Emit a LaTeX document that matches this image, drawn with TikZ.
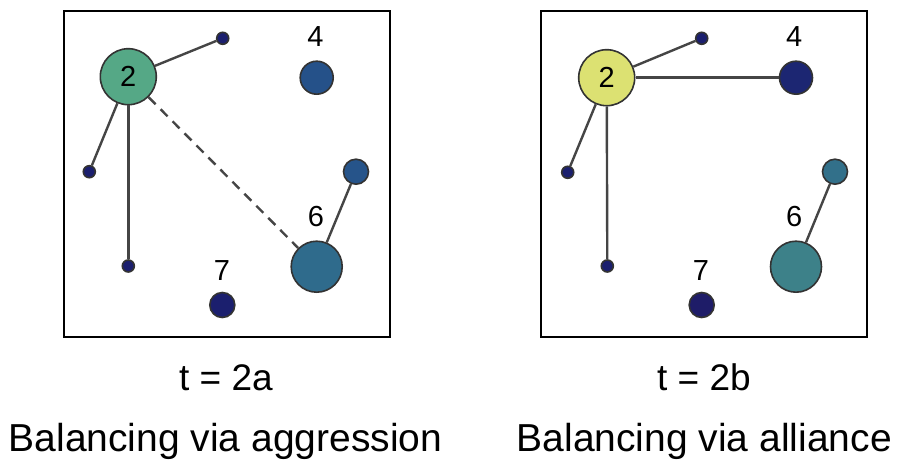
\documentclass[tikz,border=0pt]{standalone}
\usepackage{fontspec}
\setmainfont{Liberation Sans}
\usepackage{xcolor}
\usepackage{tikz}
\usetikzlibrary{positioning}

\definecolor{edgegray}{HTML}{454545}
\definecolor{rimgray}{HTML}{333333}
\definecolor{navy}{HTML}{1B1F6E}
\definecolor{navyb}{HTML}{1E1C68}
\definecolor{blueA}{HTML}{255189}
\definecolor{blueB}{HTML}{1C2672}
\definecolor{tealA}{HTML}{2F6B8C}
\definecolor{tealB}{HTML}{3D8189}
\definecolor{smallA}{HTML}{26548A}
\definecolor{smallB}{HTML}{32708A}
\definecolor{greenA}{HTML}{55A886}
\definecolor{yellowB}{HTML}{DCE172}

\begin{document}
\begin{tikzpicture}[x=1pt,y=-1pt,
  agent/.style={circle,draw=rimgray,line width=1.6pt,inner sep=0pt},
  tie/.style={draw=edgegray,line width=2.4pt},
  num/.style={font=\fontsize{29}{29}\selectfont,anchor=base},
  caption/.style={font=\fontsize{37}{37}\selectfont,anchor=base},
  motto/.style={font=\fontsize{39}{39}\selectfont,anchor=base}]
\useasboundingbox (0,0) rectangle (912,462);

% left panel: aggression
\draw[line width=1.3pt] (64,11) rectangle (390,337);
\node[agent,fill=greenA,minimum size=56pt,font=\fontsize{29}{29}\selectfont] (a2) at (128.3,76.7) {2};
\node[agent,fill=navy,minimum size=12pt] (atop) at (222.7,38.3) {};
\node[agent,fill=navy,minimum size=12pt] (aleft) at (89.3,171.7) {};
\node[agent,fill=navy,minimum size=12pt] (abot) at (128.3,266) {};
\node[agent,fill=blueA,minimum size=33pt] (a4) at (316.7,77.7) {};
\node[agent,fill=navy,minimum size=25pt] (a7) at (222.3,305) {};
\node[agent,fill=tealA,minimum size=51pt] (a6) at (316.7,266.7) {};
\node[agent,fill=smallA,minimum size=25pt] (aright) at (356,171.7) {};
\node[num] (la4) at (315.5,46.7) {4};
\node[num] (la6) at (316,226.7) {6};
\node[num] (la7) at (222,280) {7};

\draw[tie] (a2) -- (atop);
\draw[tie] (a2) -- (aleft);
\draw[tie] (a2) -- (abot);
\draw[tie] (a6) -- (aright);
\draw[tie,dash pattern=on 10pt off 7pt] (a2) -- (a6);

\node[caption] (ta) at (226,390) {t = 2a};
\node[motto] (ca) at (225.5,451) {Balancing via aggression};

% right panel: alliance
\draw[line width=1.3pt] (541,11) rectangle (867,337);
\node[agent,fill=yellowB,minimum size=56pt,font=\fontsize{29}{29}\selectfont] (b2) at (606.7,77.7) {2};
\node[agent,fill=navy,minimum size=12pt] (btop) at (701.7,38.3) {};
\node[agent,fill=navy,minimum size=12pt] (bleft) at (567.7,172.3) {};
\node[agent,fill=navy,minimum size=12pt] (bbot) at (607.3,266) {};
\node[agent,fill=blueB,minimum size=33pt] (b4) at (796,77.7) {};
\node[agent,fill=navyb,minimum size=25pt] (b7) at (701.7,305) {};
\node[agent,fill=tealB,minimum size=51pt] (b6) at (796,266.7) {};
\node[agent,fill=smallB,minimum size=25pt] (bright) at (835,171.7) {};
\node[num] (lb4) at (794.3,46.7) {4};
\node[num] (lb6) at (794.3,226.7) {6};
\node[num] (lb7) at (701,280) {7};

\draw[tie] (b2) -- (btop);
\draw[tie] (b2) -- (b4);
\draw[tie] (b2) -- (bleft);
\draw[tie] (b2) -- (bbot);
\draw[tie] (b6) -- (bright);

\node[caption] (tb) at (704,390) {t = 2b};
\node[motto] (cb) at (704.3,451) {Balancing via alliance};
\end{tikzpicture}
\end{document}
